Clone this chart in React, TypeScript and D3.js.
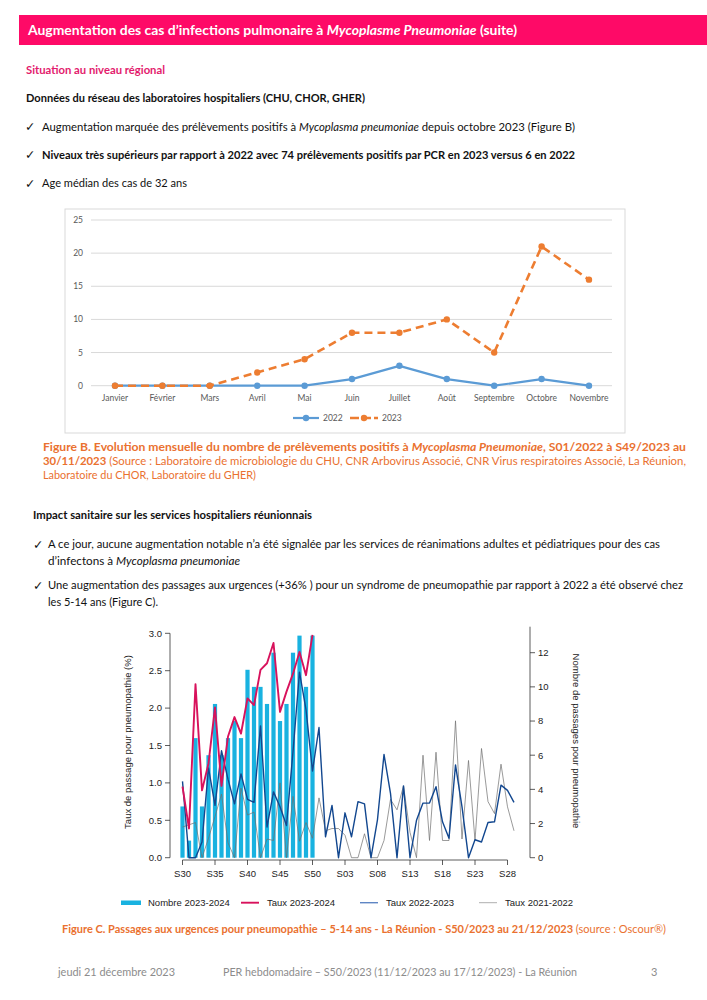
import React from "react";
import * as d3 from "d3";

// ---------- Figure B data ----------
const months = ["Janvier", "Février", "Mars", "Avril", "Mai", "Juin", "Juillet", "Août", "Septembre", "Octobre", "Novembre"];
const cases2022 = [0, 0, 0, 0, 0, 1, 3, 1, 0, 1, 0];
const cases2023 = [0, 0, 0, 2, 4, 8, 8, 10, 5, 21, 16];
const yTicksB = [0, 5, 10, 15, 20, 25];
const seriesB = ["2022", "2023"];

// ---------- Figure C data (weeks S30 -> S29) ----------
const weekTickLabels = ["S30", "S35", "S40", "S45", "S50", "S03", "S08", "S13", "S18", "S23", "S28"];
const weekTickIndex = [0, 5, 10, 15, 20, 25, 30, 35, 40, 45, 50];
const nombre2023 = [3, 1, 7, 3, 6, 9, 6, 7, 8, 7, 11, 10, 10, 9, 12, 8, 9, 12, 13, 10, 13];
const taux2023 = [0.95, 0.39, 2.32, 0.9, 1.26, 2.01, 0.96, 1.62, 1.88, 1.66, 2.13, 2.04, 2.51, 2.6, 2.87, 1.95, 2.22, 2.46, 2.75, 2.44, 2.98];
const taux2022 = [1.02, 0.0, 0.0, 0.21, 1.2, 0.7, 1.43, 1.05, 0.72, 1.12, 0.78, 0.74, 1.76, 0.41, 0.88, 0.68, 0.43, 1.42, 2.48, 1.98, 1.16, 1.74, 0.28, 0.7, 0.0, 0.6, 0.28, 0.75, 0.72, 0.0, 0.51, 1.38, 0.86, 0.0, 0.96, 0.0, 0.5, 0.73, 0.73, 0.95, 0.48, 0.26, 1.24, 0.68, 0.0, 0.24, 0.21, 0.47, 0.48, 0.97, 0.9, 0.74];
const taux2021 = [0.41, 0.44, 0.47, 0.0, 0.26, 0.55, 0.85, 0.2, 0.0, 0.93, 0.57, 0.61, 0.0, 0.25, 0.23, 1.0, 0.0, 0.82, 0.22, 0.47, 0.26, 0.8, 0.36, 0.39, 0.39, 0.3, 0.0, 0.0, 0.32, 0.0, 0.0, 0.23, 0.78, 0.64, 0.96, 0.34, 0.0, 1.37, 0.23, 1.41, 0.23, 0.23, 1.83, 0.25, 1.3, 0.23, 1.46, 0.75, 0.59, 1.25, 0.68, 0.36];
const yTicksLeft = [0, 0.5, 1, 1.5, 2, 2.5, 3];
const yTicksRight = [0, 2, 4, 6, 8, 10, 12];
const legendC = ["Nombre 2023-2024", "Taux 2023-2024", "Taux 2022-2023", "Taux 2021-2022"];

const DOC_FONT = "Lato, 'Liberation Sans', sans-serif";
const R_FONT = "'Liberation Sans', Arial, sans-serif";
const PINK = "#fe0a67";
const ORANGE = "#ea7130";

type Part = { t: string; i?: boolean; b?: boolean };

function TLine({ x, y, w, size = 10.5, weight = "normal", fill = "#111", parts }: { x: number; y: number; w?: number; size?: number; weight?: string; fill?: string; parts: Part[] }) {
  return (
    <text x={x} y={y} fontFamily={DOC_FONT} fontSize={size} fontWeight={weight} fill={fill}
      textLength={w} lengthAdjust={w ? "spacingAndGlyphs" : undefined}>
      {parts.map((p, k) => (
        <tspan key={k} fontStyle={p.i ? "italic" : undefined} fontWeight={p.b ? "bold" : undefined}>{p.t}</tspan>
      ))}
    </text>
  );
}

function Check({ x, y }: { x: number; y: number }) {
  return <text x={x - 1} y={y + 0.5} fontFamily="'DejaVu Sans', sans-serif" fontSize={12.5} fill="#111">✓</text>;
}

function FigureB() {
  const x = d3.scalePoint<string>().domain(months).range([115, 589]);
  const y = d3.scaleLinear().domain([0, 25]).range([385.7, 220]);
  const line = d3.line<number>().x((_, i) => x(months[i]) as number).y((d) => y(d));
  return (
    <g>
      <rect x={65} y={209} width={560} height={224} fill="#fff" stroke="#d9d9d9" strokeWidth={1} />
      {yTicksB.map((t) => (
        <g key={t}>
          <line x1={91} x2={612} y1={y(t)} y2={y(t)} stroke="#d9d9d9" strokeWidth={1} />
          <text x={83} y={y(t) + 3} textAnchor="end" fontFamily={DOC_FONT} fontSize={8.5} fill="#595959">{t}</text>
        </g>
      ))}
      {months.map((m) => (
        <text key={m} x={x(m)} y={400.5} textAnchor="middle" fontFamily={DOC_FONT} fontSize={8.5} fill="#595959">{m}</text>
      ))}
      <path d={line(cases2022) || ""} fill="none" stroke="#5b9bd5" strokeWidth={2.2} strokeLinejoin="round" />
      {cases2022.map((d, i) => <circle key={i} cx={x(months[i])} cy={y(d)} r={3.2} fill="#5b9bd5" />)}
      <path d={line(cases2023) || ""} fill="none" stroke="#ed7d31" strokeWidth={2.6} strokeDasharray="8 5" strokeLinejoin="round" />
      {cases2023.map((d, i) => <circle key={i} cx={x(months[i])} cy={y(d)} r={3.2} fill="#ed7d31" />)}
      {/* legend */}
      <line x1={293} x2={319} y1={418} y2={418} stroke="#5b9bd5" strokeWidth={2.2} />
      <circle cx={306} cy={418} r={3.2} fill="#5b9bd5" />
      <text x={323} y={421} fontFamily={DOC_FONT} fontSize={8.5} fill="#595959">{seriesB[0]}</text>
      <line x1={350} x2={378} y1={418} y2={418} stroke="#ed7d31" strokeWidth={2.6} strokeDasharray="9 3" />
      <circle cx={364} cy={418} r={3.2} fill="#ed7d31" />
      <text x={382} y={421} fontFamily={DOC_FONT} fontSize={8.5} fill="#595959">{seriesB[1]}</text>
    </g>
  );
}

function FigureC() {
  const xW = d3.scaleLinear().domain([0, 50]).range([182.5, 507.5]);
  const yL = d3.scaleLinear().domain([0, 3]).range([857.7, 633.3]);
  const yR = d3.scaleLinear().domain([0, 12]).range([857.7, 652.7]);
  const lineL = d3.line<number>().x((_, i) => xW(i)).y((d) => yL(d));
  const bw = 4.2;
  const fs = 9.5;
  return (
    <g fontFamily={R_FONT}>
      {nombre2023.map((c, i) => (
        <rect key={i} x={xW(i) - bw / 2} y={yR(c)} width={bw} height={yR(0) - yR(c)} fill="#19b2e0" />
      ))}
      <path d={lineL(taux2021) || ""} fill="none" stroke="#6e6e6e" strokeWidth={0.7} />
      <path d={lineL(taux2022) || ""} fill="none" stroke="#12478f" strokeWidth={1.4} strokeLinejoin="round" />
      <path d={lineL(taux2023) || ""} fill="none" stroke="#d8125c" strokeWidth={1.9} strokeLinejoin="round" />
      {/* left axis */}
      <line x1={170} x2={170} y1={yL(0)} y2={yL(3)} stroke="#333" strokeWidth={0.8} />
      {yTicksLeft.map((t) => (
        <g key={t}>
          <line x1={165} x2={170} y1={yL(t)} y2={yL(t)} stroke="#333" strokeWidth={0.8} />
          <text x={162} y={yL(t) + 3.3} textAnchor="end" fontSize={fs} fill="#222">{t.toFixed(1)}</text>
        </g>
      ))}
      <text transform="translate(131,742) rotate(-90)" textAnchor="middle" fontSize={fs} fill="#222">Taux de passage pour pneumopathie (%)</text>
      {/* right axis */}
      <line x1={530} x2={530} y1={yR(0)} y2={626.7} stroke="#333" strokeWidth={0.8} />
      {yTicksRight.map((t) => (
        <g key={t}>
          <line x1={530} x2={535} y1={yR(t)} y2={yR(t)} stroke="#333" strokeWidth={0.8} />
          <text x={538} y={yR(t) + 3.3} fontSize={fs} fill="#222">{t}</text>
        </g>
      ))}
      <text transform="translate(573,741) rotate(90)" textAnchor="middle" fontSize={fs} fill="#222">Nombre de passages pour pneumopathie</text>
      {/* bottom axis */}
      <line x1={xW(0)} x2={xW(50)} y1={860} y2={860} stroke="#333" strokeWidth={0.8} />
      {weekTickIndex.map((wi, k) => (
        <g key={wi}>
          <line x1={xW(wi)} x2={xW(wi)} y1={860} y2={865} stroke="#333" strokeWidth={0.8} />
          <text x={xW(wi)} y={876.5} textAnchor="middle" fontSize={fs} fill="#222">{weekTickLabels[k]}</text>
        </g>
      ))}
      {/* legend */}
      <rect x={121} y={900.5} width={20} height={4.5} fill="#19b2e0" />
      <text x={148} y={906} fontSize={fs} fill="#222">{legendC[0]}</text>
      <line x1={241} x2={259} y1={902.7} y2={902.7} stroke="#d8125c" strokeWidth={1.9} />
      <text x={267} y={906} fontSize={fs} fill="#222">{legendC[1]}</text>
      <line x1={360} x2={378} y1={902.7} y2={902.7} stroke="#5f86c4" strokeWidth={1.4} />
      <text x={386} y={906} fontSize={fs} fill="#222">{legendC[2]}</text>
      <line x1={479} x2={497} y1={902.7} y2={902.7} stroke="#999" strokeWidth={0.8} />
      <text x={505} y={906} fontSize={fs} fill="#222">{legendC[3]}</text>
    </g>
  );
}

export default function App() {
  return (
    <div style={{ position: "absolute", left: 0, top: 0 }}>
      <svg width={707} height={1000} viewBox="0 0 707 1000" style={{ display: "block", background: "#fff" }}>
        <rect x={0} y={0} width={707} height={1000} fill="#fff" />
        {/* header */}
        <rect x={19} y={15} width={688} height={30} fill={PINK} />
        <TLine x={28} y={34.5} w={489} size={13.5} weight="bold" fill="#fff"
          parts={[{ t: "Augmentation des cas d’infections pulmonaire à " }, { t: "Mycoplasme Pneumoniae", i: true }, { t: " (suite)" }]} />
        <TLine x={26} y={73.5} w={139} size={10.5} weight="bold" fill="#e31b6d" parts={[{ t: "Situation au niveau régional" }]} />
        <TLine x={26} y={101.5} w={339} size={10.5} weight="bold" parts={[{ t: "Données du réseau des laboratoires hospitaliers (CHU, CHOR, GHER)" }]} />
        <Check x={26} y={130.5} />
        <TLine x={42} y={130.5} w={533} parts={[{ t: "Augmentation marquée des prélèvements positifs à " }, { t: "Mycoplasma pneumoniae", i: true }, { t: " depuis octobre 2023 (Figure B)" }]} />
        <Check x={26} y={158.5} />
        <TLine x={42} y={158.5} w={533} weight="bold" parts={[{ t: "Niveaux très supérieurs par rapport à 2022 avec 74 prélèvements positifs par PCR en 2023 versus 6 en 2022" }]} />
        <Check x={26} y={187} />
        <TLine x={42} y={187} w={145} parts={[{ t: "Age médian des cas de 32 ans" }]} />

        <FigureB />

        {/* caption B */}
        <TLine x={43} y={451} w={643} fill={ORANGE} parts={[{ t: "Figure B. Evolution mensuelle du nombre de prélèvements positifs à ", b: true }, { t: "Mycoplasma Pneumoniae", b: true, i: true }, { t: ", S01/2022 à S49/2023 au", b: true }]} />
        <TLine x={43} y={465} w={643} fill={ORANGE} parts={[{ t: "30/11/2023", b: true }, { t: " (Source : Laboratoire de microbiologie du CHU, CNR Arbovirus Associé, CNR Virus respiratoires Associé, La Réunion," }]} />
        <TLine x={43} y={479} w={213} fill={ORANGE} parts={[{ t: "Laboratoire du CHOR, Laboratoire du GHER)" }]} />

        <TLine x={33} y={519} w={279} weight="bold" parts={[{ t: "Impact sanitaire sur les services hospitaliers réunionnais" }]} />
        <Check x={34} y={548} />
        <TLine x={48} y={548} w={612} parts={[{ t: "A ce jour, aucune augmentation notable n’a été signalée par les services de réanimations adultes et pédiatriques pour des cas" }]} />
        <TLine x={48} y={564.5} w={192} parts={[{ t: "d’infectons à " }, { t: "Mycoplasma pneumoniae", i: true }]} />
        <Check x={34} y={589} />
        <TLine x={48} y={589} w={635} parts={[{ t: "Une augmentation des passages aux urgences (+36% ) pour un syndrome de pneumopathie par rapport à 2022 a été observé chez" }]} />
        <TLine x={48} y={605.5} w={110} parts={[{ t: "les 5-14 ans (Figure C)." }]} />

        <FigureC />

        <TLine x={62} y={933} w={604} fill={ORANGE} parts={[{ t: "Figure C. Passages aux urgences pour pneumopathie – 5-14 ans - La Réunion - S50/2023 au 21/12/2023", b: true }, { t: " (source : Oscour®)" }]} />

        {/* footer */}
        <TLine x={58} y={976} w={117} size={11} fill="#8c8c8c" parts={[{ t: "jeudi 21 décembre 2023" }]} />
        <TLine x={223} y={976} w={354} size={11} fill="#8c8c8c" parts={[{ t: "PER hebdomadaire – S50/2023 (11/12/2023 au 17/12/2023) - La Réunion" }]} />
        <TLine x={651} y={976} size={11} fill="#8c8c8c" parts={[{ t: "3" }]} />
      </svg>
    </div>
  );
}
